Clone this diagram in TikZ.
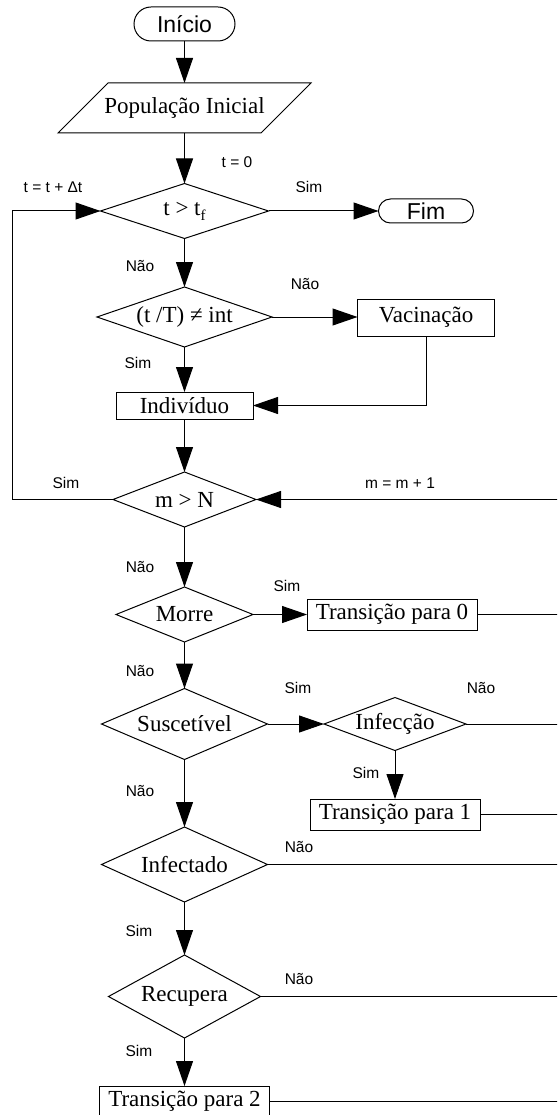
\documentclass[tikz,border=0pt]{standalone}
\usepackage{fontspec}
\setmainfont{Liberation Serif}
\newfontfamily\arialf{Liberation Sans}
\usetikzlibrary{shapes.geometric,shapes.misc,arrows.meta}
\begin{document}
\begin{tikzpicture}[x=1pt,y=-1pt,
  every node/.style={inner sep=0pt, outer sep=0pt},
  serif/.style={font=\fontsize{23}{23}\selectfont},
  term/.style={draw, rounded rectangle, line width=1pt, font=\arialf\fontsize{23}{23}\selectfont},
  proc/.style={draw, rectangle, line width=1pt, serif},
  dec/.style={draw, diamond, line width=1pt, label={[serif]center:#1}},
  lbl/.style={font=\arialf\fontsize{15.5}{15.5}\selectfont},
  ln/.style={line width=1pt},
  arr/.style={ln, -{Triangle[length=25pt,width=17pt]}},
]
\useasboundingbox (0,0) rectangle (557,1115);
\clip (0,0) rectangle (557,1115);
\coordinate (bus) at (562,0);
\coordinate (loopx) at (12,0);

% nodes
\node[term, minimum width=101, minimum height=34] (inicio) at (184.5,24) {Início};
\node[minimum width=253, minimum height=50, serif] (pop) at (184.5,108) {População Inicial};
\draw[ln] ([xshift=50pt]pop.north west) -- (pop.north east) -- ([xshift=-50pt]pop.south east) -- (pop.south west) -- cycle;
\node[dec={t > t\raisebox{-5pt}{\fontsize{15}{15}\selectfont f}}, minimum width=168, minimum height=55] (tf) at (184.5,211) {};
\node[term, minimum width=95, minimum height=24] (fim) at (426,211) {Fim};
\node[dec={(t /T) ≠ int}, minimum width=175, minimum height=60] (tT) at (184.5,317) {};
\node[proc, minimum width=137, minimum height=37] (vac) at (426,317.5) {Vacinação};
\node[proc, minimum width=137, minimum height=27] (ind) at (184.5,405.5) {Indivíduo};
\node[dec={m > N}, minimum width=143, minimum height=55] (mN) at (184.5,499.5) {};
\node[dec={Morre}, minimum width=137, minimum height=55] (morre) at (184.5,614.5) {};
\node[proc, minimum width=170, minimum height=31] (t0) at (392,614.5) {Transição para 0};
\node[dec={Suscetível}, minimum width=166, minimum height=71] (sus) at (184.5,724) {};
\node[dec={Infecção}, minimum width=142, minimum height=53] (inf) at (395,724) {};
\node[proc, minimum width=170, minimum height=31] (t1) at (395,814.5) {Transição para 1};
\node[dec={Infectado}, minimum width=166, minimum height=75] (infd) at (184.5,864.5) {};
\node[dec={Recupera}, minimum width=152, minimum height=83] (rec) at (184.5,996.5) {};
\node[proc, minimum width=170, minimum height=31] (t2) at (184.5,1101.5) {Transição para 2};

% connectors
\draw[arr] (inicio.south) -- (pop.north);
\draw[arr] (pop.south) -- (tf.north);
\draw[arr] (tf.east) -- (fim.west);
\draw[arr] (tf.south) -- (tT.north);
\draw[arr] (tT.east) -- (tT.east -| vac.west);
\draw[arr] (tT.south) -- (ind.north);
\draw[arr] (vac.south) |- (ind.east);
\draw[arr] (ind.south) -- (mN.north);
\draw[arr] (mN.west) -- (mN.west -| loopx) |- (tf.west);
\draw[arr] (mN.east -| bus) -- (mN.east);
\draw[arr] (mN.south) -- (morre.north);
\draw[arr] (morre.east) -- (t0.west);
\draw[ln] (t0.east) -- (t0.east -| bus);
\draw[arr] (morre.south) -- (sus.north);
\draw[arr] (sus.east) -- (inf.west);
\draw[ln] (inf.east) -- (inf.east -| bus);
\draw[arr] (inf.south) -- (t1.north);
\draw[ln] (t1.east) -- (t1.east -| bus);
\draw[arr] (sus.south) -- (infd.north);
\draw[ln] (infd.east) -- (infd.east -| bus);
\draw[arr] (infd.south) -- (rec.north);
\draw[ln] (rec.east) -- (rec.east -| bus);
\draw[arr] (rec.south) -- (t2.north);
\draw[ln] (t2.east) -- (t2.east -| bus);

% labels
\node[lbl] (l1) at (237,162) {t = 0};
\node[lbl] (l2) at (53,187) {t = t + Δt};
\node[lbl] (l3) at (309,187) {Sim};
\node[lbl] (l4) at (140,266) {Não};
\node[lbl] (l5) at (305,284) {Não};
\node[lbl] (l6) at (138,363) {Sim};
\node[lbl] (l7) at (66,483) {Sim};
\node[lbl] (l8) at (400,483) {m = m + 1};
\node[lbl] (l9) at (140,567) {Não};
\node[lbl] (l10) at (287,586) {Sim};
\node[lbl] (l11) at (140,671) {Não};
\node[lbl] (l12) at (298,688) {Sim};
\node[lbl] (l13) at (481,688) {Não};
\node[lbl] (l14) at (366,773) {Sim};
\node[lbl] (l15) at (140,791) {Não};
\node[lbl] (l16) at (299,847) {Não};
\node[lbl] (l17) at (139,931) {Sim};
\node[lbl] (l18) at (299,979) {Não};
\node[lbl] (l19) at (139,1051) {Sim};
\end{tikzpicture}
\end{document}
